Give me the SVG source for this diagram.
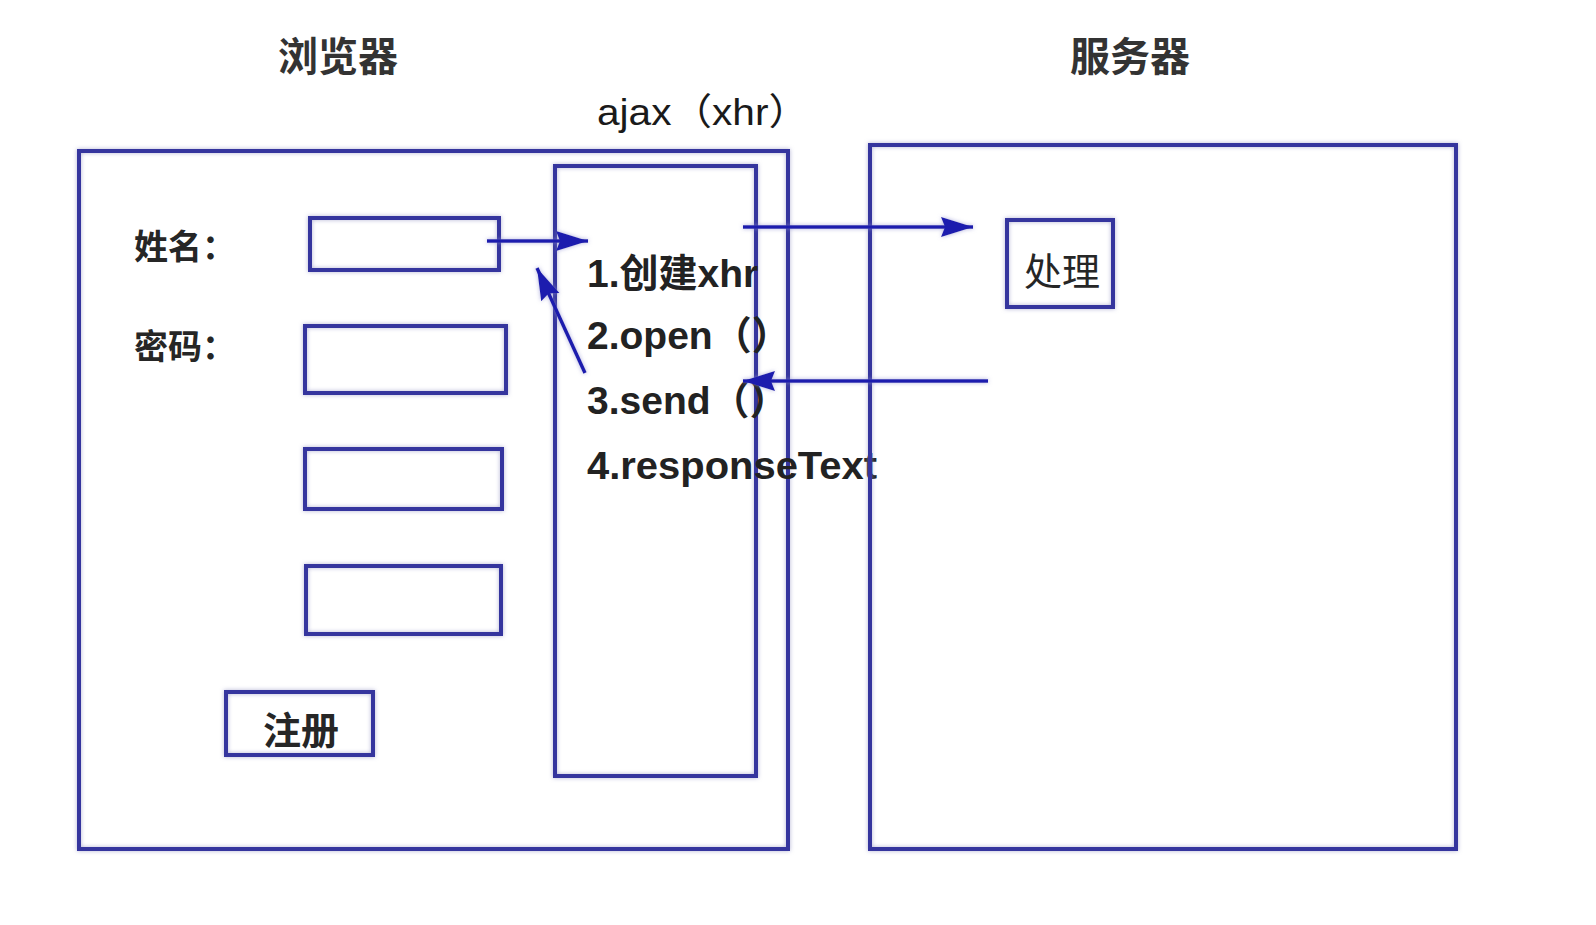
<svg xmlns="http://www.w3.org/2000/svg" width="1596" height="925" viewBox="0 0 1596 925">
  <defs>
    <style>
      .box { fill: none; stroke: #34349e; stroke-width: 4; filter: url(#glow); }
      .conn { fill: none; stroke: #1f1fae; stroke-width: 3.5; filter: url(#glow); }
      .cjk { font-family: "Noto Sans CJK SC", sans-serif; fill: #262626; }
      .title { font-family: "Noto Sans CJK SC", sans-serif; font-size: 40px; font-weight: 700; fill: #333; }
      .lat { font-family: "Liberation Sans", "Noto Sans CJK SC", sans-serif; fill: #1a1a1a; }
      .step { font-family: "Liberation Sans", "Noto Sans CJK SC", sans-serif; font-size: 39px; font-weight: 700; fill: #222; }
    </style>
    <filter id="glow" filterUnits="userSpaceOnUse" x="0" y="0" width="1596" height="925">
      <feGaussianBlur in="SourceGraphic" stdDeviation="2.2" result="b"/>
      <feColorMatrix in="b" type="matrix" values="1 0 0 0 0.25  0 1 0 0 0.25  0 0 1 0 0.2  0 0 0 0.7 0" result="c"/>
      <feMerge>
        <feMergeNode in="c"/>
        <feMergeNode in="SourceGraphic"/>
      </feMerge>
    </filter>
    <marker id="arrow" markerUnits="userSpaceOnUse" markerWidth="34" markerHeight="24" refX="32" refY="12" orient="auto">
      <path d="M0,2 L32,12 L0,22 L4,12 Z" fill="#1f1fae"/>
    </marker>
  </defs>
  <rect width="1596" height="925" fill="#ffffff"/>

  <text class="title" x="338" y="71" text-anchor="middle">浏览器</text>
  <text class="title" x="1130" y="71" text-anchor="middle">服务器</text>
  <text class="lat" x="597" y="125" font-size="37" textLength="212" lengthAdjust="spacingAndGlyphs">ajax（xhr）</text>

  <g id="browser">
    <rect class="box" x="79" y="151" width="709" height="698"/>
  </g>
  <g id="ajax">
    <rect class="box" x="555" y="166" width="201" height="610"/>
    <text class="step" x="587" y="287">1.创建xhr</text>
    <text class="step" x="587" y="349">2.open（）</text>
    <text class="step" x="587" y="414">3.send（）</text>
    <text class="step" x="587" y="479" textLength="290" lengthAdjust="spacingAndGlyphs">4.responseText</text>
  </g>
  <g id="server">
    <rect class="box" x="870" y="145" width="586" height="704"/>
  </g>

  <g id="label-name">
    <text class="cjk" x="134" y="259" font-size="34" font-weight="700">姓名：</text>
  </g>
  <g id="input-name">
    <rect class="box" x="310" y="218" width="189" height="52"/>
  </g>
  <g id="label-pwd">
    <text class="cjk" x="134" y="359" font-size="34" font-weight="700">密码：</text>
  </g>
  <g id="input-pwd">
    <rect class="box" x="305" y="326" width="201" height="67"/>
  </g>
  <g id="input-3">
    <rect class="box" x="305" y="449" width="197" height="60"/>
  </g>
  <g id="input-4">
    <rect class="box" x="306" y="566" width="195" height="68"/>
  </g>
  <g id="register">
    <rect class="box" x="226" y="692" width="147" height="63"/>
    <text class="cjk" x="301" y="744" font-size="38" font-weight="700" text-anchor="middle">注册</text>
  </g>
  <g id="process">
    <rect class="box" x="1007" y="220" width="106" height="87"/>
    <text class="cjk" x="1062" y="285" font-size="38" text-anchor="middle">处理</text>
  </g>

  <g id="connectors">
    <line class="conn" x1="487" y1="241" x2="588" y2="241" marker-end="url(#arrow)"/>
    <line class="conn" x1="585" y1="373" x2="537" y2="268" marker-end="url(#arrow)"/>
    <line class="conn" x1="743" y1="227" x2="973" y2="227" marker-end="url(#arrow)"/>
    <line class="conn" x1="988" y1="381" x2="743" y2="381" marker-end="url(#arrow)"/>
  </g>
</svg>
